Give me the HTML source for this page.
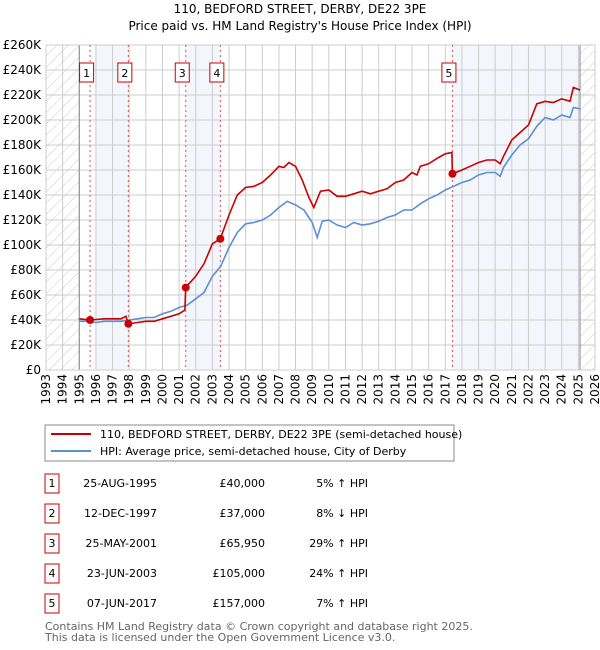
<!DOCTYPE html>
<html><head><meta charset="utf-8"><style>
body{margin:0;width:600px;height:650px;background:#fff;font-family:"DejaVu Sans","Liberation Sans",sans-serif;overflow:hidden}
svg{position:absolute;left:0;top:0}
</style></head><body>
<svg id="chart" width="600" height="650" xmlns="http://www.w3.org/2000/svg">
<defs><pattern id="hatch" width="8" height="8" patternUnits="userSpaceOnUse" patternTransform="rotate(45)"><line x1="0" y1="0" x2="0" y2="8" stroke="#ccc" stroke-width="1"/></pattern></defs>
<text x="300" y="13" text-anchor="middle" font-size="12">110, BEDFORD STREET, DERBY, DE22 3PE</text>
<text x="300" y="30" text-anchor="middle" font-size="12">Price paid vs. HM Land Registry's House Price Index (HPI)</text>
<g id="plot"></g>
<rect x="45" y="425" width="409" height="36" fill="#fff" stroke="#888"/>
<line x1="51" y1="434" x2="91" y2="434" stroke="#cc0000" stroke-width="2"/>
<text x="100" y="438" font-size="11">110, BEDFORD STREET, DERBY, DE22 3PE (semi-detached house)</text>
<line x1="51" y1="451" x2="91" y2="451" stroke="#5b8fd6" stroke-width="2"/>
<text x="100" y="455" font-size="11">HPI: Average price, semi-detached house, City of Derby</text>
<g id="table" font-size="11"></g>
<text x="45" y="630" font-size="11" fill="#666">Contains HM Land Registry data © Crown copyright and database right 2025.</text>
<text x="45" y="641" font-size="11" fill="#666">This data is licensed under the Open Government Licence v3.0.</text>
</svg>
<script>
const hpiYears=[1995,1995.5,1996,1996.5,1997,1997.5,1998,1998.5,1999,1999.5,2000,2000.5,2001,2001.5,2002,2002.5,2003,2003.5,2004,2004.5,2005,2005.5,2006,2006.5,2007,2007.5,2008,2008.5,2009,2009.3,2009.6,2010,2010.5,2011,2011.5,2012,2012.5,2013,2013.5,2014,2014.5,2015,2015.5,2016,2016.5,2017,2017.5,2018,2018.5,2019,2019.5,2020,2020.3,2020.5,2021,2021.5,2022,2022.5,2023,2023.5,2024,2024.5,2024.7,2025.1];
const hpiValues=[39,39,38,39,39,39,40,41,42,42,45,47,50,52,57,62,75,83,98,110,117,118,120,124,130,135,132,128,118,106,119,120,116,114,118,116,117,119,122,124,128,128,133,137,140,144,147,150,152,156,158,158,155,162,172,180,185,195,202,200,204,202,210,209];
const priceYears=[1995,1995.65,1996.5,1997.5,1997.8,1997.95,1998.5,1999,1999.5,2000,2000.5,2001,2001.35,2001.4,2002,2002.5,2003,2003.48,2004,2004.5,2005,2005.5,2006,2006.5,2007,2007.3,2007.6,2008,2008.4,2008.8,2009.1,2009.5,2010,2010.5,2011,2011.5,2012,2012.5,2013,2013.5,2014,2014.5,2015,2015.3,2015.5,2016,2016.6,2017,2017.4,2017.43,2018,2018.5,2019,2019.5,2020,2020.3,2020.5,2021,2021.5,2022,2022.5,2023,2023.5,2024,2024.5,2024.7,2025.1];
const priceValues=[41,40,41,41,43,37,38,39,39,41,43,45,48,66,75,85,101,105,124,140,146,147,150,156,163,162,166,163,152,138,130,143,144,139,139,141,143,141,143,145,150,152,158,156,163,165,170,173,174,157,160,163,166,168,168,165,171,184,190,196,213,215,214,217,215,226,224];
const saleYears=[1995.65,1997.95,2001.4,2003.48,2017.43];
const saleValues=[40,37,65.95,105,157];
const saleLabels=["1","2","3","4","5"];
const saleDates=["25-AUG-1995","12-DEC-1997","25-MAY-2001","23-JUN-2003","07-JUN-2017"];
const salePrices=["£40,000","£37,000","£65,950","£105,000","£157,000"];
const saleHpi=["5% ↑ HPI","8% ↓ HPI","29% ↑ HPI","24% ↑ HPI","7% ↑ HPI"];
const yTicks=[0,20,40,60,80,100,120,140,160,180,200,220,240,260];
const xTicks=[1993,1994,1995,1996,1997,1998,1999,2000,2001,2002,2003,2004,2005,2006,2007,2008,2009,2010,2011,2012,2013,2014,2015,2016,2017,2018,2019,2020,2021,2022,2023,2024,2025,2026];

const NS="http://www.w3.org/2000/svg";
const L=46,R=595,T=45,B=370;
const xs=y=>L+(y-1993)/(2026-1993)*(R-L);
const ys=v=>B-v/260*(B-T);
const g=document.getElementById('plot');
function mk(tag,attrs,parent){const e=document.createElementNS(NS,tag);for(const k in attrs)e.setAttribute(k,attrs[k]);(parent||g).appendChild(e);return e;}

let e;
e=mk('rect',{x:96,y:T,width:128-96,height:B-T,fill:'#f3f7fd'});


e=mk('rect',{x:xs(saleYears[2]),y:T,width:xs(saleYears[3])-xs(saleYears[2]),height:B-T,fill:'#f3f7fd'});


e=mk('rect',{x:xs(saleYears[4]),y:T,width:xs(2025.1)-xs(saleYears[4]),height:B-T,fill:'#f3f7fd'});


e=mk('rect',{x:L,y:T,width:xs(1995)-L,height:B-T,fill:'url(#hatch)'});


e=mk('rect',{x:xs(2025.1),y:T,width:R-xs(2025.1),height:B-T,fill:'url(#hatch)'});



yTicks.forEach(v=>{
  e=mk('line',{x1:L,x2:R,y1:ys(v),y2:ys(v),stroke:'#ccc','stroke-width':1});
  
  
  e=mk('text',{x:L-5,y:ys(v)+4,'text-anchor':'end','font-size':12});
  e.textContent=v===0?'£0':'£'+v+'K';
  
  
});
xTicks.forEach(y=>{
  e=mk('line',{x1:xs(y),x2:xs(y),y1:T,y2:B,stroke:'#ccc','stroke-width':1});
  
  
  e=mk('text',{x:0,y:0,'font-size':12,transform:`translate(${xs(y)+4},${B+4}) rotate(-90)`,'text-anchor':'end'});
  e.textContent=y;
  
  
});
e=mk('line',{x1:xs(1995),x2:xs(1995),y1:T,y2:B,stroke:'#888'});


e=mk('line',{x1:xs(2025.1),x2:xs(2025.1),y1:T,y2:B,stroke:'#888'});


e=mk('rect',{x:L,y:T,width:R-L,height:B-T,fill:'none',stroke:'#ccc'});



saleYears.forEach((y,i)=>{
  e=mk('line',{x1:xs(y),x2:xs(y),y1:T,y2:B,stroke:'#e05050','stroke-dasharray':'2,3','stroke-width':1});
  
  
  const cx=xs(y)-3.5;
  e=mk('rect',{x:cx-7,y:63,width:14,height:19,fill:'#fff',stroke:'#cc0000'});
  
  
  e=mk('text',{x:cx,y:77,'text-anchor':'middle','font-size':11});
  e.textContent=saleLabels[i];
  
  
});

function path(xsA,vs){return xsA.map((y,i)=>(i?'L':'M')+xs(y).toFixed(1)+','+ys(vs[i]).toFixed(1)).join('');}
e=mk('path',{d:path(hpiYears,hpiValues),fill:'none',stroke:'#5b8fd6','stroke-width':1.6});


e=mk('path',{d:path(priceYears,priceValues),fill:'none',stroke:'#cc0000','stroke-width':1.6});


saleYears.forEach((y,i)=>{
  e=mk('circle',{cx:xs(y),cy:ys(saleValues[i]),r:4,fill:'#cc0000'});
  
  
});

const tb=document.getElementById('table');
saleLabels.forEach((l,i)=>{
  const cy=483+i*30;
  e=mk('rect',{x:45,y:cy-9,width:14,height:19,fill:'#fff',stroke:'#cc0000'},tb);
  
  
  e=mk('text',{x:52,y:cy+4,'text-anchor':'middle'},tb);e.textContent=l;
  
  
  e=mk('text',{x:157,y:cy+4,'text-anchor':'end'},tb);e.textContent=saleDates[i];
  
  
  e=mk('text',{x:265,y:cy+4,'text-anchor':'end'},tb);e.textContent=salePrices[i];
  
  
  e=mk('text',{x:368,y:cy+4,'text-anchor':'end'},tb);e.textContent=saleHpi[i];
  
  
});
</script>
</body></html>
